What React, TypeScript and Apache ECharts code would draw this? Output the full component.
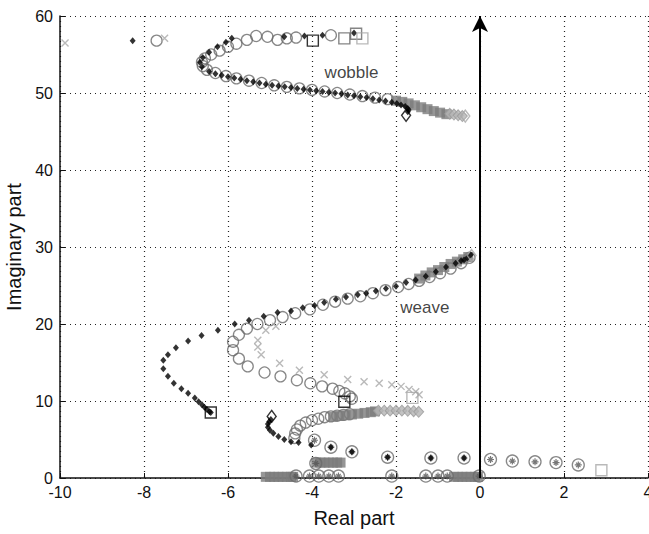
import React, { useEffect, useRef } from "react";
import * as echarts from "echarts";

const xTicks = [-10, -8, -6, -4, -2, 0, 2, 4];
const yTicks = [0, 10, 20, 30, 40, 50, 60];

const blackDiamonds: number[][] = [
  [-8.27, 56.8], [-5.91, 57.1], [-4.66, 57.3], [-4.18, 57.4], [-3.75, 57.5], [-3.0, 57.8],
  [-6.05, 56.6], [-6.25, 56.0], [-6.45, 55.3], [-6.6, 54.6], [-6.67, 54.0], [-6.62, 53.4],
  [-6.45, 52.8], [-6.3, 52.5], [-6.15, 52.3], [-6.0, 52.1], [-5.85, 51.95], [-5.7, 51.8],
  [-5.55, 51.6], [-5.4, 51.45], [-5.25, 51.3], [-5.1, 51.15], [-4.95, 51.0], [-4.8, 50.9],
  [-4.65, 50.8], [-4.5, 50.7], [-4.35, 50.6], [-4.2, 50.5], [-4.05, 50.4], [-3.9, 50.3],
  [-3.75, 50.2], [-3.6, 50.1], [-3.45, 50.0], [-3.3, 49.9], [-3.15, 49.75], [-3.0, 49.65],
  [-2.85, 49.5], [-2.7, 49.4], [-2.55, 49.25], [-2.4, 49.1], [-2.25, 48.95], [-2.1, 48.8],
  [-1.98, 48.65], [-1.88, 48.45], [-1.78, 48.25], [-1.72, 48.0], [-1.7, 47.8], [-1.72, 47.55],
  [-6.41, 8.5], [-6.44, 8.6], [-6.5, 8.9], [-6.56, 9.2], [-6.62, 9.5], [-6.7, 9.9],
  [-6.79, 10.4], [-6.95, 11.0], [-7.11, 11.6], [-7.29, 12.3], [-7.43, 13.2], [-7.54, 14.2],
  [-7.54, 15.3], [-7.43, 16.0], [-7.24, 16.9], [-6.95, 17.8], [-6.63, 18.5], [-6.24, 19.2],
  [-5.84, 20.0], [-5.5, 20.5], [-5.15, 21.0], [-4.82, 21.5], [-4.5, 21.7], [-4.22, 22.1],
  [-3.94, 22.4], [-3.71, 22.8], [-3.43, 23.2], [-3.19, 23.5], [-2.91, 23.8], [-2.71, 24.0],
  [-2.48, 24.3], [-2.24, 24.6], [-2.0, 24.9], [-1.76, 25.4], [-1.53, 25.7], [-1.29, 26.2],
  [-1.05, 26.8], [-0.81, 27.4], [-0.58, 27.9], [-0.45, 28.2], [-0.38, 28.3], [-0.3, 28.6],
  [-0.22, 29.0],
  [-4.98, 7.6], [-5.02, 7.3], [-5.05, 7.0], [-5.05, 6.6], [-5.0, 6.2], [-4.92, 5.8],
  [-4.8, 5.4], [-4.66, 5.0], [-4.5, 4.7], [-4.32, 4.6], [-4.02, 4.3],
  [-3.55, 4.0], [-3.05, 3.4], [-2.2, 2.7], [-1.17, 2.6], [-0.38, 2.6],
];

const greyCircles: number[][] = [
  [-7.7, 56.8], [-5.8, 56.4], [-5.55, 56.9], [-5.33, 57.4], [-5.06, 57.3], [-4.82, 56.9],
  [-4.6, 57.1], [-4.38, 57.2], [-3.55, 57.5],
  [-6.0, 56.0], [-6.2, 55.5], [-6.4, 55.0], [-6.55, 54.5], [-6.62, 54.0], [-6.6, 53.5],
  [-6.5, 53.0], [-6.3, 52.6], [-6.05, 52.2], [-5.8, 51.9], [-5.5, 51.6], [-5.2, 51.3],
  [-4.9, 51.0], [-4.6, 50.8], [-4.3, 50.6], [-4.0, 50.4], [-3.7, 50.2], [-3.4, 50.0],
  [-3.1, 49.8], [-2.8, 49.6], [-2.5, 49.4], [-2.2, 49.2],
  [-5.88, 17.7], [-5.74, 18.6], [-5.55, 19.4], [-5.3, 20.0], [-5.0, 20.5], [-4.7, 20.9],
  [-4.4, 21.4], [-4.05, 21.9], [-3.74, 22.5], [-3.45, 22.9], [-3.15, 23.3], [-2.85, 23.6],
  [-2.55, 24.0], [-2.25, 24.4], [-1.95, 24.8], [-1.7, 25.2], [-1.45, 25.6], [-1.2, 26.1],
  [-0.95, 26.6], [-0.7, 27.2], [-0.45, 27.9], [-0.25, 28.6],
  [-5.88, 16.6], [-5.74, 15.5], [-5.53, 14.5], [-5.13, 13.7], [-4.75, 13.2], [-4.36, 12.7],
  [-4.04, 12.3], [-3.76, 11.9], [-3.51, 11.6], [-3.35, 11.3], [-3.22, 11.0], [-3.1, 10.6],
  [-3.05, 10.3],
  [-4.42, 5.2], [-4.4, 5.8], [-4.36, 6.3], [-4.28, 6.8], [-4.15, 7.2], [-4.0, 7.5],
  [-3.85, 7.7], [-3.7, 7.9], [-3.55, 8.0], [-3.4, 8.1], [-3.25, 8.2], [-3.1, 8.3],
];

const lightCrosses: number[][] = [
  [-9.88, 56.5], [-7.51, 57.1],
  [-4.86, 19.7], [-5.1, 19.2], [-5.29, 17.9], [-5.29, 17.0], [-5.21, 16.0], [-4.77, 14.9],
  [-4.3, 14.0], [-3.71, 13.4], [-3.15, 12.8], [-2.76, 12.5], [-2.4, 12.3], [-2.1, 12.1],
  [-1.88, 11.9], [-1.69, 11.5], [-1.53, 11.2], [-1.45, 10.8],
];

const greyBand: number[][] = [
  [-2.0, 49.0], [-1.85, 48.85], [-1.7, 48.65], [-1.55, 48.4], [-1.4, 48.15], [-1.25, 47.9],
  [-1.1, 47.65], [-0.95, 47.45], [-0.8, 47.25],
  [-1.45, 25.9], [-1.3, 26.3], [-1.15, 26.7], [-1.0, 27.0], [-0.85, 27.4], [-0.7, 27.8],
  [-0.55, 28.1], [-0.4, 28.4], [-0.28, 28.7],
  [-3.5, 7.95], [-3.35, 8.05], [-3.2, 8.15], [-3.05, 8.25], [-2.9, 8.35], [-2.75, 8.45],
  [-2.6, 8.55], [-2.5, 8.65],
  [-5.1, 0.15], [-5.0, 0.15], [-4.9, 0.15], [-4.8, 0.15], [-4.7, 0.15], [-4.6, 0.15],
  [-4.5, 0.15], [-4.45, 0.15],
  [-0.62, 0.15], [-0.52, 0.15], [-0.42, 0.15], [-0.32, 0.15], [-0.22, 0.15], [-0.12, 0.15],
  [-0.05, 0.15],
  [-3.9, 2.0], [-3.8, 2.0], [-3.7, 2.0], [-3.6, 2.0], [-3.5, 2.0], [-3.4, 2.0], [-3.32, 2.0],
];

const lightBand: number[][] = [
  [-0.72, 47.3], [-0.62, 47.2], [-0.52, 47.1], [-0.42, 47.0],
  [-2.42, 8.75], [-2.28, 8.75], [-2.14, 8.75], [-2.0, 8.75], [-1.86, 8.75], [-1.72, 8.72],
  [-1.58, 8.68], [-1.46, 8.6],
];

const circledStars: number[][] = [
  [-4.38, 0.25], [-4.06, 0.25], [-3.84, 0.25], [-3.6, 0.25], [-3.37, 0.25], [-2.1, 0.25],
  [-1.29, 0.25], [-1.0, 0.25], [-0.78, 0.25], [-0.02, 0.25],
  [-3.91, 1.9],
  [-3.94, 4.9], [-3.55, 4.0], [-3.05, 3.4], [-2.2, 2.7], [-1.17, 2.6], [-0.38, 2.6],
  [0.25, 2.4], [0.77, 2.2], [1.31, 2.1], [1.81, 2.0], [2.34, 1.7],
];

const blackSquares: number[][] = [[-3.98, 56.8], [-6.41, 8.5], [-3.23, 9.9]];
const greySquares: number[][] = [[-3.23, 57.1], [-2.95, 57.7]];
const lightSquares: number[][] = [[-2.8, 57.1], [-1.61, 10.4], [2.89, 1.0]];
const blackEnds: number[][] = [[-1.76, 47.1], [-4.96, 8.0]];
const lightEnds: number[][] = [[-0.35, 47.0], [-0.2, 28.9]];

const modeLabels: { name: string; at: number[] }[] = [
  { name: "wobble", at: [-3.7, 52.7] },
  { name: "weave", at: [-1.9, 22.2] },
];

const CROSS = "path://M0,0L10,10M10,0L0,10";
const STAR = "path://M5,0L5,10M0,5L10,5M1.8,1.8L8.2,8.2M8.2,1.8L1.8,8.2";

function sc(data: number[][], symbol: string, size: any, itemStyle: any, z = 2) {
  return {
    type: "scatter",
    data,
    symbol,
    symbolSize: size,
    itemStyle,
    z,
    silent: true,
    clip: false,
  };
}

export default function App() {
  const ref = useRef<HTMLDivElement>(null);
  useEffect(() => {
    document.body.style.margin = "0";
    document.body.style.overflow = "hidden";
    const chart = echarts.init(ref.current!, null, { renderer: "svg" });
    const font = "Liberation Sans, Arial, sans-serif";
    chart.setOption({
      animation: false,
      backgroundColor: "#ffffff",
      grid: { left: 60, right: 1, top: 16, bottom: 56, containLabel: false, outerBoundsMode: "none" },
      xAxis: {
        type: "value",
        min: -10,
        max: 4,
        interval: 2,
        name: "Real part",
        nameLocation: "middle",
        nameGap: 30,
        nameTextStyle: { fontSize: 20, color: "#111", fontFamily: font },
        axisLine: { onZero: false, lineStyle: { color: "#111", width: 1.5 } },
        axisTick: { inside: true, length: 5, lineStyle: { color: "#111" } },
        axisLabel: { fontSize: 16, color: "#111", fontFamily: font, margin: 6,
          formatter: (v: number) => (xTicks.includes(v) ? String(v) : "") },
        splitLine: { show: true, lineStyle: { color: "#222", type: [1, 4], width: 1.2 } },
      },
      yAxis: {
        type: "value",
        min: 0,
        max: 60,
        interval: 10,
        name: "Imaginary part",
        nameLocation: "middle",
        nameGap: 31,
        nameTextStyle: { fontSize: 20, color: "#111", fontFamily: font },
        axisLine: { show: true, onZero: false, lineStyle: { color: "#111", width: 1.5 } },
        axisTick: { show: true, inside: true, length: 5, lineStyle: { color: "#111" } },
        axisLabel: { fontSize: 16, color: "#111", fontFamily: font, margin: 7,
          formatter: (v: number) => (yTicks.includes(v) ? String(v) : "") },
        splitLine: { show: true, lineStyle: { color: "#222", type: [1, 4], width: 1.2 } },
      },
      series: [
        {
          type: "line",
          data: [],
          silent: true,
          markLine: {
            silent: true,
            symbol: ["none", "arrow"],
            symbolSize: [12, 16],
            label: { show: false },
            lineStyle: { color: "#000", width: 2, type: "solid" },
            data: [[{ coord: [0, 0] }, { coord: [0, 60] }]],
          },
          z: 1,
        },
        sc(greyCircles, "circle", 11, { color: "transparent", borderColor: "#6a6a6a", borderWidth: 1.3 }, 2),
        sc(greyBand, "rect", [10, 10], { color: "#7c7c7c" }, 2),
        sc(lightBand, "diamond", [10, 11], { color: "#b4b4b4", borderColor: "#9a9a9a", borderWidth: 1 }, 2),
        sc(lightCrosses, CROSS, 7, { color: "transparent", borderColor: "#a8a8a8", borderWidth: 1.4 }, 3),
        sc(circledStars, "circle", 12, { color: "transparent", borderColor: "#6a6a6a", borderWidth: 1.3 }, 3),
        sc(circledStars, STAR, 7, { color: "transparent", borderColor: "#555", borderWidth: 1.2 }, 3),
        sc(blackDiamonds, "diamond", [6, 7], { color: "#000" }, 4),
        sc(blackSquares, "rect", 11, { color: "transparent", borderColor: "#000", borderWidth: 1.4 }, 5),
        sc(greySquares, "rect", 11, { color: "transparent", borderColor: "#666", borderWidth: 1.4 }, 5),
        sc(lightSquares, "rect", 11, { color: "transparent", borderColor: "#a8a8a8", borderWidth: 1.4 }, 5),
        sc(blackEnds, "diamond", [9, 12], { color: "transparent", borderColor: "#000", borderWidth: 1.4 }, 5),
        sc(lightEnds, "diamond", [9, 12], { color: "transparent", borderColor: "#a8a8a8", borderWidth: 1.4 }, 5),
        {
          type: "scatter",
          silent: true,
          symbolSize: 0,
          data: modeLabels.map((m) => ({ name: m.name, value: m.at })),
          label: {
            show: true,
            position: "right",
            distance: 0,
            formatter: (p: any) => p.name,
            fontSize: 17,
            color: "#111",
            fontFamily: font,
          },
          z: 6,
        },
      ],
    });
    return () => chart.dispose();
  }, []);
  return <div ref={ref} style={{ width: 649, height: 534 }} />;
}
